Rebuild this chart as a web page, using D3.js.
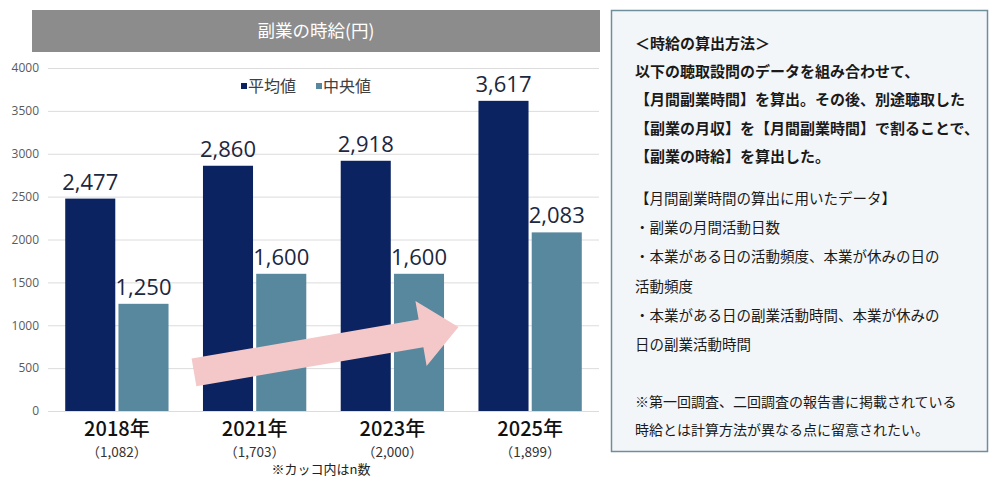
<!DOCTYPE html>
<html>
<head>
<meta charset="utf-8">
<script src="https://cdn.jsdelivr.net/npm/d3@7"></script>
<style>
  body { margin: 0; background: #fff; }
  text { font-family: "Noto Sans CJK JP", "Noto Sans", sans-serif; }
</style>
</head>
<body>
<svg id="chart" width="1000" height="490"></svg>
<script>
const years = ["2018年", "2021年", "2023年", "2025年"];
const sampleSizes = ["（1,082）", "（1,703）", "（2,000）", "（1,899）"];
const seriesNames = ["平均値", "中央値"];
const avgValues = [2477, 2860, 2918, 3617];
const medianValues = [1250, 1600, 1600, 2083];
const yTicks = [0, 500, 1000, 1500, 2000, 2500, 3000, 3500, 4000];
const chartTitle = "副業の時給(円)";
const footNote = "※カッコ内はn数";
const methodLines = [
  "＜時給の算出方法＞",
  "以下の聴取設問のデータを組み合わせて、",
  "【月間副業時間】を算出。その後、別途聴取した",
  "【副業の月収】を【月間副業時間】で割ることで、",
  "【副業の時給】を算出した。"
];
const dataLines = [
  "【月間副業時間の算出に用いたデータ】",
  "・副業の月間活動日数",
  "・本業がある日の活動頻度、本業が休みの日の",
  "活動頻度",
  "・本業がある日の副業活動時間、本業が休みの",
  "日の副業活動時間"
];
const cautionLines = [
  "※第一回調査、二回調査の報告書に掲載されている",
  "時給とは計算方法が異なる点に留意されたい。"
];

const colors = { avg: "#0b2361", med: "#57889d" };

const svg = d3.select("#chart");

const rows = years.map((yr, i) => ({
  year: yr,
  n: sampleSizes[i],
  values: [
    { key: "avg", value: avgValues[i] },
    { key: "med", value: medianValues[i] }
  ]
}));

const x0 = d3.scaleBand().domain(years).range([48, 599]).paddingInner(0.25).paddingOuter(0.125);
const x1 = d3.scaleBand().domain(["avg", "med"]).range([0, x0.bandwidth()]).paddingInner(0.06);
const y = d3.scaleLinear().domain([0, 4000]).range([411, 68]);

// title bar
svg.append("rect")
  .attr("x", 32).attr("y", 10).attr("width", 568).attr("height", 42)
  .attr("fill", "#8c8c8c");
svg.append("text")
  .attr("x", 316).attr("y", 37)
  .attr("text-anchor", "middle")
  .attr("fill", "#fff")
  .attr("font-size", 17.5)
  .text(chartTitle);

// y axis + grid
const yAxis = svg.append("g")
  .attr("transform", "translate(48,0)")
  .call(d3.axisLeft(y).tickValues(yTicks).tickSize(-551).tickPadding(9).tickFormat(d3.format("d")));
yAxis.select(".domain").remove();
yAxis.selectAll(".tick line").attr("stroke", "#dcdcdc").attr("stroke-width", 1);
yAxis.selectAll(".tick text")
  .attr("fill", "#5a5a5a")
  .attr("font-size", 12)
  .style("font-family", "'Open Sans', 'Noto Sans', sans-serif");

// legend
const legend = svg.append("g").attr("transform", "translate(241,86)");
seriesNames.forEach((name, i) => {
  const g = legend.append("g").attr("transform", `translate(${i * 75},0)`);
  g.append("rect").attr("x", 0).attr("y", -3).attr("width", 6).attr("height", 6)
    .attr("fill", i === 0 ? colors.avg : colors.med);
  g.append("text").attr("x", 7).attr("y", 6)
    .attr("font-size", 16).attr("fill", "#404040").text(name);
});

// bars
const groups = svg.append("g").selectAll("g")
  .data(rows)
  .join("g")
  .attr("transform", d => `translate(${x0(d.year)},0)`);

groups.selectAll("rect")
  .data(d => d.values)
  .join("rect")
  .attr("x", d => x1(d.key))
  .attr("y", d => y(d.value))
  .attr("width", x1.bandwidth())
  .attr("height", d => y(0) - y(d.value))
  .attr("fill", d => colors[d.key]);

groups.selectAll("text.val")
  .data(d => d.values)
  .join("text")
  .attr("class", "val")
  .attr("x", d => x1(d.key) + x1.bandwidth() / 2)
  .attr("y", d => y(d.value) - 9)
  .attr("text-anchor", "middle")
  .attr("font-size", 22)
  .attr("fill", "#1c2740")
  .style("font-family", "'Open Sans', 'Noto Sans', sans-serif")
  .text(d => d3.format(",")(d.value));

// arrow annotation (from the 2021 group to just before 2025)
const ax0 = x0("2021年") - 9, ay0 = y(450);
const ax1 = x0("2025年") - 20, ay1 = y(980);
const len = Math.hypot(ax1 - ax0, ay1 - ay0);
const ang = Math.atan2(ay1 - ay0, ax1 - ax0) * 180 / Math.PI;
const shaftHalf = 14, headHalf = 33, headLen = 38;
svg.append("g")
  .attr("transform", `translate(${ax0},${ay0}) rotate(${ang})`)
  .append("path")
  .attr("d", d3.line()([
    [0, -shaftHalf], [len - headLen, -shaftHalf], [len - headLen, -headHalf],
    [len, 0], [len - headLen, headHalf], [len - headLen, shaftHalf], [0, shaftHalf]
  ]) + "Z")
  .attr("fill", "#f4c8c8");

// x labels
const xl = svg.append("g").selectAll("g").data(rows).join("g")
  .attr("transform", d => `translate(${x0(d.year) + x0.bandwidth() / 2},0)`);
xl.append("text")
  .attr("y", 436).attr("text-anchor", "middle")
  .attr("font-size", 20).attr("font-weight", 500).attr("fill", "#111")
  .text(d => d.year);
xl.append("text")
  .attr("y", 457).attr("text-anchor", "middle")
  .attr("font-size", 13.5).attr("fill", "#333")
  .text(d => d.n);

svg.append("text")
  .attr("x", 321).attr("y", 474).attr("text-anchor", "middle")
  .attr("font-size", 13).attr("fill", "#222")
  .text(footNote);

// explanation box
svg.append("rect")
  .attr("x", 611.5).attr("y", 10.5).attr("width", 376).attr("height", 441)
  .attr("fill", "#f3f6f9").attr("stroke", "#6f8e9c").attr("stroke-width", 1.5);

const box = svg.append("g").attr("fill", "#1a1a1a");
box.selectAll("text.m").data(methodLines).join("text")
  .attr("class", "m")
  .attr("x", 635).attr("y", (d, i) => 49 + i * 28.2)
  .attr("font-size", 15).attr("font-weight", 700)
  .text(d => d);
box.selectAll("text.d").data(dataLines).join("text")
  .attr("class", "d")
  .attr("x", 635).attr("y", (d, i) => 204 + i * 29.2)
  .attr("font-size", 14.5)
  .text(d => d);
box.selectAll("text.c").data(cautionLines).join("text")
  .attr("class", "c")
  .attr("x", 635).attr("y", (d, i) => 407 + i * 28)
  .attr("font-size", 14)
  .text(d => d);
</script>
</body>
</html>
